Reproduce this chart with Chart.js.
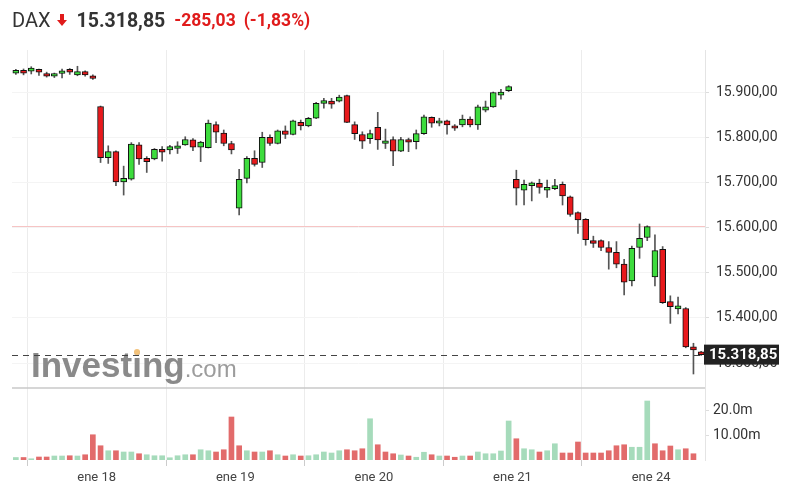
<!DOCTYPE html>
<html>
<head>
<meta charset="utf-8">
<script src="https://cdn.jsdelivr.net/npm/chart.js@4.4.1/dist/chart.umd.min.js"></script>
<style>
  body { margin: 0; background: #fff; font-family: Roboto, Arial, sans-serif; }
  #wrap { position: relative; width: 787px; height: 501px; }
  #hdr { position: absolute; left: 12px; top: 9px; height: 22px; display: flex; align-items: center; white-space: nowrap; }
  #hdr .sym { font-size: 20px; color: #333; }
  #hdr svg { margin: 0 10px 0 6px; }
  #hdr .last { font-size: 19.5px; font-weight: bold; color: #333; margin-right: 9px; }
  #hdr .chg { font-size: 17.5px; font-weight: bold; color: #e01b1b; margin-right: 8px; }
</style>
</head>
<body>
<div id="wrap">
  <canvas id="daxChart"></canvas>
  <div id="hdr">
    <span class="sym">DAX</span>
    <svg width="10" height="12" viewBox="0 0 10 12"><path d="M3 0 H7 V6 H10 L5 12 L0 6 H3 Z" fill="#e01b1b"/></svg>
    <span class="last">15.318,85</span>
    <span class="chg">-285,03</span>
    <span class="chg">(-1,83%)</span>
  </div>
</div>
<script>
// 30 min candles, ene 17 (partial) .. ene 24
const opens  = [15942,15948,15946,15950,15941,15935,15941,15950,15938,15945,15936,
                15868,15755,15768,15701,15707,15783,15753,15752,15773,15772,15775,15783,15794,15778,15777,15828,15809,15786,
                15643,15709,15753,15744,15800,15786,15814,15806,15833,15825,15842,15875,15880,15880,15892,15828,15806,15797,
                15822,15786,15795,15769,15795,15790,15808,15844,15831,15836,15825,15827,15840,15827,15860,15867,15893,15903,
                15707,15683,15693,15698,15683,15686,15696,15668,15633,15618,15571,15571,15556,15545,15519,15482,15556,15578,
                15491,15552,15436,15420,15421,15336,15325];
const highs  = [15950,15951,15956,15951,15944,15942,15951,15952,15957,15947,15938,
                15869,15781,15770,15736,15788,15788,15757,15775,15779,15782,15790,15801,15797,15791,15838,15834,15816,15791,
                15729,15757,15770,15811,15805,15816,15825,15838,15838,15844,15877,15886,15886,15893,15893,15834,15812,15816,
                15855,15818,15801,15800,15798,15816,15849,15845,15842,15838,15828,15849,15845,15871,15880,15900,15906,15914,
                15727,15705,15701,15707,15705,15707,15701,15670,15635,15620,15581,15573,15569,15569,15530,15559,15608,15604,
                15584,15558,15449,15446,15423,15344,15326];
const lows   = [15939,15938,15940,15937,15933,15932,15931,15939,15936,15935,15928,
                15744,15742,15693,15672,15705,15740,15722,15750,15747,15763,15764,15782,15770,15746,15776,15788,15781,15763,
                15628,15699,15736,15733,15782,15785,15797,15805,15816,15823,15841,15864,15864,15878,15832,15795,15775,15786,
                15773,15775,15737,15768,15768,15774,15806,15822,15825,15807,15815,15823,15823,15817,15856,15866,15884,15901,
                15650,15650,15659,15676,15667,15684,15650,15625,15587,15561,15556,15549,15508,15511,15451,15471,15532,15571,
                15471,15432,15388,15409,15334,15276,15317];
const closes = [15948,15942,15953,15944,15935,15941,15947,15944,15945,15938,15930,
                15755,15768,15701,15709,15785,15752,15746,15773,15767,15779,15781,15795,15778,15789,15831,15811,15786,15772,
                15707,15753,15740,15800,15786,15814,15806,15836,15825,15842,15875,15881,15873,15889,15833,15808,15791,15808,
                15794,15792,15769,15795,15789,15808,15845,15831,15836,15827,15820,15840,15827,15867,15867,15899,15900,15912,
                15687,15696,15699,15689,15689,15693,15670,15629,15617,15573,15565,15556,15545,15519,15479,15554,15576,15602,
                15549,15434,15425,15427,15336,15329,15318.85];
// volume in millions, and whether the volume bar is drawn green (1) or red (0)
const volumes = [1.0,1.0,0.5,1.2,1.2,1.6,1.6,1.7,1.6,2.1,10.1,
                 5.7,3.7,3.7,3.2,3.2,2.5,2.1,1.7,1.7,0.9,1.7,2.1,2.1,4.1,3.7,3.2,4.1,17.2,
                 5.7,3.7,3.2,3.2,3.7,2.1,1.6,2.1,1.6,1.7,2.1,3.2,2.8,3.7,4.1,3.7,4.5,16.5,
                 6.1,3.2,2.5,2.0,1.6,1.1,3.1,2.1,1.6,1.6,1.1,1.6,1.6,3.2,2.5,2.5,3.6,15.6,
                 8.5,4.5,4.1,3.2,3.7,6.5,2.8,2.8,7.2,2.8,2.8,2.8,3.7,5.7,6.1,5.1,5.1,23.6,
                 6.5,3.7,5.6,4.1,4.5,2.5,null];
const volumeUp = [1,0,1,0,0,1,1,0,1,0,0,
                  0,1,0,1,1,0,1,1,1,1,1,1,0,1,1,0,0,0,
                  0,1,0,1,0,1,0,1,0,1,1,1,1,1,0,0,0,1,
                  0,0,0,1,0,1,1,0,1,0,0,1,0,1,1,1,1,1,
                  0,1,1,0,1,1,0,0,0,0,0,0,0,0,0,1,1,1,
                  0,0,0,1,0,0,0];

const dayLabels = ["ene 18", "ene 19", "ene 20", "ene 21", "ene 24"];
const dayStarts = [10.5, 28.5, 46.5, 64.5, 82.5];   // boundaries between sessions
const priceTicks = [15300, 15400, 15500, 15600, 15700, 15800, 15900];
const volumeTicks = [10, 20];
const volumeTickLabels = ["10.00m", "20.0m"];
const prevClose = 15603.88;
const lastPrice = 15318.85;

const GREEN = '#3ddc3d';
const RED = '#e8191c';

function fmtPrice(v) {
  const parts = v.toFixed(2).split('.');
  return parts[0].replace(/\B(?=(\d{3})+(?!\d))/g, '.') + ',' + parts[1];
}

const wickData = highs.map((h, i) => ({ x: i, y: [lows[i], h] }));
const bodyData = opens.map((o, i) => ({ x: i, y: [o, closes[i]] }));
const bodyColors = opens.map((o, i) => closes[i] >= o ? GREEN : RED);
const volData = volumes.map((v, i) => ({ x: i, y: v }));
const volColors = volumeUp.map(u => u ? '#a6dbbb' : '#e26b6b');

const overlayPlugin = {
  id: 'overlays',
  beforeDatasetsDraw(chart) {
    const { ctx, chartArea } = chart;
    const y = chart.scales.y;
    ctx.save();
    // watermark
    ctx.fillStyle = '#8a8a8a';
    ctx.font = 'bold 35px "Liberation Sans", Arial, sans-serif';
    ctx.textBaseline = 'alphabetic';
    const wx = 31, wy = 377;
    ctx.fillText('Investing', wx, wy);
    const w1 = ctx.measureText('Investing').width;
    const iOff = ctx.measureText('Invest').width + ctx.measureText('i').width / 2;
    ctx.fillStyle = '#f3c27a';
    ctx.beginPath();
    ctx.arc(wx + iOff, wy - 25, 3, 0, Math.PI * 2);
    ctx.fill();
    ctx.fillStyle = '#9c9c9c';
    ctx.font = '24px "Liberation Sans", Arial, sans-serif';
    ctx.fillText('.com', wx + w1, wy);

    // previous close line
    const py = Math.round(y.getPixelForValue(prevClose)) + 0.5;
    ctx.strokeStyle = '#f6c4c4';
    ctx.lineWidth = 1;
    ctx.beginPath();
    ctx.moveTo(chartArea.left, py);
    ctx.lineTo(y.left, py);
    ctx.stroke();

    // last price dashed line
    const ly = Math.round(y.getPixelForValue(lastPrice)) + 0.5;
    ctx.strokeStyle = '#444';
    ctx.setLineDash([6, 5]);
    ctx.beginPath();
    ctx.moveTo(chartArea.left, ly);
    ctx.lineTo(y.left, ly);
    ctx.stroke();
    ctx.setLineDash([]);

    // separator between price and volume panels
    ctx.strokeStyle = '#c8c8c8';
    ctx.lineWidth = 1.5;
    ctx.beginPath();
    ctx.moveTo(chartArea.left, y.bottom);
    ctx.lineTo(y.left, y.bottom);
    ctx.stroke();
    ctx.restore();
  },
  afterDraw(chart) {
    const { ctx } = chart;
    const y = chart.scales.y;
    const ly = y.getPixelForValue(lastPrice);
    ctx.save();
    ctx.fillStyle = '#222';
    ctx.fillRect(y.left - 1, ly - 10, 75, 20);
    ctx.fillStyle = '#fff';
    ctx.font = 'bold 15px Roboto, Arial, sans-serif';
    ctx.textBaseline = 'middle';
    ctx.fillText(fmtPrice(lastPrice), y.left + 4, ly + 1);
    ctx.restore();
  }
};

const ctx = document.getElementById('daxChart');
new Chart(ctx, {
  type: 'bar',
  data: {
    datasets: [
      {
        label: 'wick',
        data: wickData,
        yAxisID: 'y',
        backgroundColor: '#555',
        barThickness: 1,
        grouped: false,
        order: 2
      },
      {
        label: 'body',
        data: bodyData,
        yAxisID: 'y',
        backgroundColor: bodyColors,
        borderColor: '#111',
        borderWidth: 1,
        borderSkipped: false,
        barThickness: 6,
        grouped: false,
        order: 1
      },
      {
        label: 'volume',
        data: volData,
        yAxisID: 'yv',
        backgroundColor: volColors,
        barThickness: 5,
        grouped: false,
        order: 3
      }
    ]
  },
  options: {
    responsive: true,
    maintainAspectRatio: false,
    animation: false,
    layout: { padding: { left: 12, top: 50, right: 0, bottom: 0 } },
    plugins: { legend: { display: false }, tooltip: { enabled: false } },
    scales: {
      x: {
        type: 'linear',
        min: -0.5,
        max: 89.5,
        offset: false,
        afterBuildTicks: scale => { scale.ticks = dayStarts.map(v => ({ value: v })); },
        afterFit: scale => { scale.height = 41; },
        ticks: {
          color: '#444',
          font: { family: 'Roboto', size: 13 },
          padding: 4,
          maxRotation: 0,
          autoSkip: false,
          callback: (v) => dayLabels[dayStarts.indexOf(v)]
        },
        grid: { color: '#ececec', tickLength: 6, tickColor: '#ccc' },
        border: { display: false }
      },
      y: {
        type: 'linear',
        position: 'right',
        stack: 'right',
        stackWeight: 338,
        min: 15245,
        max: 15993,
        afterBuildTicks: scale => { scale.ticks = priceTicks.map(v => ({ value: v })); },
        afterFit: scale => { scale.width = 82; },
        ticks: {
          color: '#333',
          font: { family: 'Roboto', size: 14 },
          padding: 7,
          callback: v => fmtPrice(v)
        },
        grid: { color: '#f4f4f4', tickLength: 4, tickColor: '#ddd' },
        border: { color: '#e4e4e4' }
      },
      yv: {
        type: 'linear',
        position: 'right',
        stack: 'right',
        stackWeight: 72,
        min: 0,
        max: 28.8,
        afterBuildTicks: scale => { scale.ticks = volumeTicks.map(v => ({ value: v })); },
        afterFit: scale => { scale.width = 82; },
        ticks: {
          color: '#333',
          font: { family: 'Roboto', size: 14 },
          padding: 4,
          callback: v => volumeTickLabels[volumeTicks.indexOf(v)]
        },
        grid: { drawOnChartArea: false, tickLength: 4, tickColor: '#ddd' },
        border: { color: '#e4e4e4' }
      }
    }
  },
  plugins: [overlayPlugin]
});
</script>
</body>
</html>
